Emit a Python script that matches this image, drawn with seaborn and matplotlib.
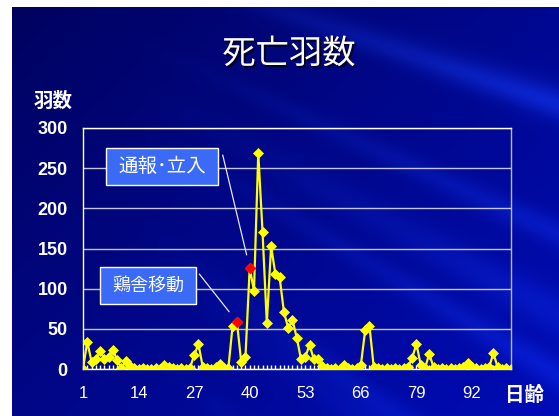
import numpy as np
import pandas as pd
import matplotlib
matplotlib.use("Agg")
import matplotlib.pyplot as plt
import matplotlib.patheffects as pe
from matplotlib.patches import Rectangle
from matplotlib.ticker import MultipleLocator
import seaborn as sns

# ---------------- data ----------------
days = list(range(1, 102))
deaths = [
    0, 34, 9, 12, 22, 13, 15, 24, 11, 1,
    10, 4, 1, 0, 1, 0, 0, 1, 0, 5,
    2, 1, 0, 1, 0, 1, 17, 31, 3, 1,
    0, 2, 6, 1, 1, 54, 59, 9, 15, 126,
    97, 269, 170, 57, 153, 118, 114, 71, 51, 61,
    39, 12, 15, 30, 12, 13, 4, 1, 0, 1,
    0, 5, 1, 0, 1, 5, 48, 54, 3, 1,
    0, 1, 0, 1, 0, 1, 2, 14, 31, 5,
    1, 19, 2, 0, 1, 0, 1, 0, 1, 2,
    8, 3, 1, 0, 1, 2, 20, 2, 0, 1,
    0,
]
event_days = [37, 40]
event_labels = ["鶏舎移動", "通報･立入"]
x_tick_days = [1, 14, 27, 40, 53, 66, 79, 92]
y_ticks = [0, 50, 100, 150, 200, 250, 300]

title = "死亡羽数"
y_label = "羽数"
x_label = "日齢"

df = pd.DataFrame({"day": days, "deaths": deaths})
ev = df[df["day"].isin(event_days)]

# ---------------- figure ----------------
W, H = 559, 416
fig = plt.figure(figsize=(W / 100, H / 100), dpi=100)
fig.patch.set_facecolor("white")


def fx(px):
    return px / W


def fy(py):
    return 1 - py / H


# background (slide gradient with light streaks)
bg = fig.add_axes([fx(12), 0, 1 - fx(12), fy(7)])
hh, ww = H - 7, W - 12
yy, xx = np.mgrid[0:hh, 0:ww].astype(float)
X = xx + 12
Y = yy + 7
xn = X / W
yn = Y / H
t = np.clip(0.15 + 0.45 * xn + 0.35 * yn, 0, 1)
dark = np.array([0.0, 0.0, 0.30])
bright = np.array([0.0, 0.05, 0.74])
img = dark + (bright - dark) * t[..., None]
theta = np.arctan2(Y + 250, X + 500)
r1 = (0.5 * (1 + np.sin(theta * 60 + 1.0))) ** 8
r2 = (0.5 * (1 + np.sin(theta * 37 + 2.3))) ** 10
streak = 0.6 * r1 + 0.5 * r2
weight = np.clip((xn - 0.25) * 1.4, 0, 1)
img = img + (streak * weight)[..., None] * np.array([0.04, 0.10, 0.20])
img = np.clip(img, 0, 1)
bg.imshow(img, aspect="auto", extent=[0, 1, 0, 1], interpolation="bilinear")
bg.axis("off")

# main axes
ax = fig.add_axes([fx(83), fy(369), fx(510.5) - fx(83), fy(128) - fy(369)])
ax.set_facecolor("none")

sns.lineplot(data=df, x="day", y="deaths", ax=ax, color="#FFFF00",
             linewidth=1.6, marker="D", markersize=5.2,
             markeredgecolor="#FFFF00", markeredgewidth=0.5, zorder=3)
sns.scatterplot(data=ev, x="day", y="deaths", ax=ax, color="#FF0000",
                marker="D", s=30, edgecolor="#FF0000", linewidth=0.5,
                zorder=4)

ax.set_xlim(days[0], days[-1])
ax.set_ylim(y_ticks[0], y_ticks[-1])
ax.set_xlabel("")
ax.set_ylabel("")

ax.set_yticks(y_ticks)
ax.set_yticklabels([str(v) for v in y_ticks], fontsize=13, fontweight="bold",
                   color="white", family=["Liberation Sans", "DejaVu Sans"])
ax.tick_params(axis="y", length=0, pad=11)

ax.set_xticks(x_tick_days)
ax.set_xticklabels([str(v) for v in x_tick_days], fontsize=12,
                   color="white", family=["Liberation Sans", "DejaVu Sans"])
ax.xaxis.set_minor_locator(MultipleLocator(1))
ax.tick_params(axis="x", which="both", direction="in", length=3.2,
               width=1, color="white", pad=12)

ax.yaxis.grid(True, color="#C4C4DC", linewidth=1.0)
ax.xaxis.grid(False)
ax.set_axisbelow(True)
for side in ["left", "top", "bottom"]:
    ax.spines[side].set_color("white")
    ax.spines[side].set_linewidth(1.0)
ax.spines["right"].set_color("#B8B8D0")
ax.spines["right"].set_linewidth(1.0)

cjk = ["Noto Sans CJK JP", "DejaVu Sans"]

# title with shadow
fig.text(fx(289), fy(54), title, ha="center", va="center", fontsize=24,
         color="white", family=cjk,
         path_effects=[pe.SimplePatchShadow(offset=(1.5, -1.5),
                                            shadow_rgbFace="black", alpha=0.7),
                       pe.Normal()])

fig.text(fx(53), fy(101), y_label, ha="center", va="center", fontsize=14,
         fontweight="bold", color="white", family=cjk)
fig.text(fx(524), fy(395), x_label, ha="center", va="center", fontsize=14,
         fontweight="bold", color="white", family=cjk)

# annotation boxes
boxes = {
    "通報･立入": (105.7, 148.3, 218.3, 185.0, 14, (222.7, 155.0), 9.5),
    "鶏舎移動": (100.0, 267.3, 195.7, 304.0, 13, (199.3, 274.0), 9.0),
}
for d, lab in zip(event_days, event_labels):
    x0, y0, x1, y1, fs, start, shrink = boxes[lab]
    fig.patches.append(Rectangle((fx(x0), fy(y1)), fx(x1) - fx(x0),
                                 fy(y0) - fy(y1), transform=fig.transFigure,
                                 facecolor="#3A6AF6", edgecolor="white",
                                 linewidth=1.0, zorder=5))
    fig.text(fx((x0 + x1) / 2), fy((y0 + y1) / 2), lab, ha="center",
             va="center", fontsize=fs, color="white", family=cjk, zorder=6)
    val = df.loc[df["day"] == d, "deaths"].iloc[0]
    ax.annotate("", xy=(d, val), xycoords="data",
                xytext=(start[0], H - start[1]), textcoords="figure pixels",
                arrowprops=dict(arrowstyle="-", color="#E6E6F2", lw=0.9,
                                shrinkA=0, shrinkB=shrink),
                annotation_clip=False)

fig.savefig("out.png", dpi=100)
